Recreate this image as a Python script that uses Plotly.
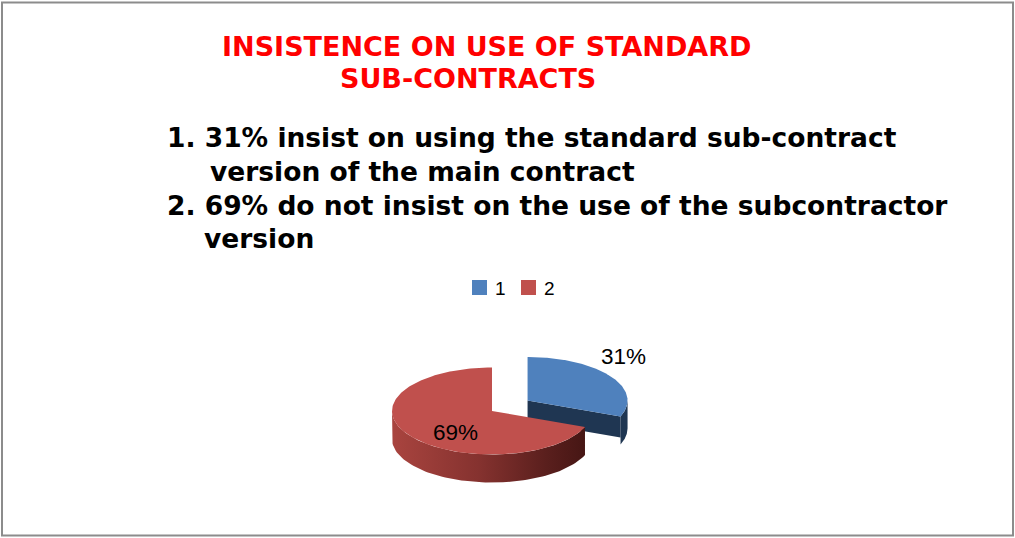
import numpy as np
import plotly.graph_objects as go

# ---- data ----
categories = ["1", "2"]
values = [31, 69]
slice_labels = ["31%", "69%"]
title_lines = ["INSISTENCE ON USE OF STANDARD", "SUB-CONTRACTS"]
body_lines = [
    "1. 31% insist on using the standard sub-contract",
    "version of the main contract",
    "2. 69% do not insist on the use of the subcontractor",
    "version",
]

# ---- style ----
W, H = 1015, 538
top_colors = ["#4F81BD", "#C0504D"]
side_colors = ["#1F3652", "#8E3633"]
CX, CY, RX, RY, DEPTH, EXPLODE = 492, 411, 100, 43.5, 28, 0.43

fig = go.Figure()

total = sum(values)
fracs = [v / total for v in values]
starts = np.cumsum([0] + fracs[:-1]) * 360.0


def pt(cx, cy, th):
    r = np.radians(th)
    return cx + RX * np.sin(r), cy - RY * np.cos(r)


centers = []
for i, (f, s) in enumerate(zip(fracs, starts)):
    e = s + f * 360.0
    mid = np.radians((s + e) / 2)
    off = EXPLODE if i == 0 else 0.0
    cx = CX + off * RX * np.sin(mid)
    cy = CY - off * RY * np.cos(mid)
    centers.append((cx, cy, s, e))

# sides first, then top faces
for i, (cx, cy, s, e) in enumerate(centers):
    a0, a1 = max(s, 90), min(e, 270)
    if a1 > a0:
        th = np.linspace(a0, a1, 80)
        xs, ys = pt(cx, cy, th)
        px = list(xs) + list(xs[::-1])
        py = list(ys) + list((ys + DEPTH)[::-1])
        if i == 1:
            fig.add_trace(go.Scatter(
                x=px, y=py, mode="lines", fill="toself", line=dict(width=0),
                fillgradient=dict(type="horizontal",
                                  colorscale=[[0, "#A9443F"], [0.45, "#85322F"],
                                              [0.8, "#5A1F1D"], [1, "#461614"]]),
                hoverinfo="skip", showlegend=False))
        else:
            fig.add_trace(go.Scatter(
                x=px, y=py, mode="lines", fill="toself", line=dict(width=0),
                fillcolor=side_colors[i], hoverinfo="skip", showlegend=False))
    if 90 < e < 270 and i == 0:
        ex, ey = pt(cx, cy, e)
        d = DEPTH * 0.75
        px = [cx, ex, ex, cx, cx]
        py = [cy, ey, ey + d, cy + d, cy]
        fig.add_trace(go.Scatter(
            x=px, y=py, mode="lines", fill="toself", line=dict(width=0),
            fillcolor=side_colors[i], hoverinfo="skip", showlegend=False))

for i, (cx, cy, s, e) in enumerate(centers):
    th = np.linspace(s, e, 200)
    xs, ys = pt(cx, cy, th)
    px = [cx] + list(xs) + [cx]
    py = [cy] + list(ys) + [cy]
    fig.add_trace(go.Scatter(
        x=px, y=py, mode="lines", fill="toself", line=dict(width=0),
        fillcolor=top_colors[i], hoverinfo="skip", showlegend=False,
        name=categories[i]))

# slice labels
lab_pos = [(623, 356), (455, 432)]
for (lx, ly), t in zip(lab_pos, slice_labels):
    fig.add_annotation(x=lx, y=ly, text=t, showarrow=False,
                       font=dict(family="Liberation Sans", size=22.5, color="#000000"),
                       xanchor="center", yanchor="middle")

# legend (custom)
leg = [(472, 493), (521, 542)]
for i, ((sx, tx), c) in enumerate(zip(leg, categories)):
    fig.add_shape(type="rect", x0=sx, x1=sx + 15, y0=280, y1=295,
                  fillcolor=top_colors[i], line=dict(width=0))
    fig.add_annotation(x=tx, y=288, text=c, showarrow=False, xanchor="left",
                       yanchor="middle",
                       font=dict(family="Liberation Sans", size=19, color="#000000"))

# title
for t, x, y in zip(title_lines, [220, 338], [46, 78.5]):
    fig.add_annotation(x=x, y=y, text="<b>" + t + "</b>", showarrow=False,
                       xanchor="left", yanchor="middle",
                       font=dict(family="DejaVu Sans", size=27, color="#FF0000"))

# body text
for t, x, y in zip(body_lines, [165, 208, 165, 202], [137.5, 171, 205, 238]):
    fig.add_annotation(x=x, y=y, text="<b>" + t + "</b>", showarrow=False,
                       xanchor="left", yanchor="middle",
                       font=dict(family="DejaVu Sans", size=26.5, color="#000000"))

# border
fig.add_shape(type="rect", x0=2, x1=1013, y0=2.5, y1=535.5,
              line=dict(color="#8C8C8C", width=2), fillcolor="rgba(0,0,0,0)")

fig.update_layout(
    width=W, height=H, margin=dict(l=0, r=0, t=0, b=0),
    paper_bgcolor="white", plot_bgcolor="white", showlegend=False,
    xaxis=dict(range=[0, W], visible=False, fixedrange=True),
    yaxis=dict(range=[H, 0], visible=False, fixedrange=True),
)
fig.write_html("out.html", config={"displayModeBar": False},
               post_script="document.body.style.margin='0';document.body.style.overflow='hidden';")
